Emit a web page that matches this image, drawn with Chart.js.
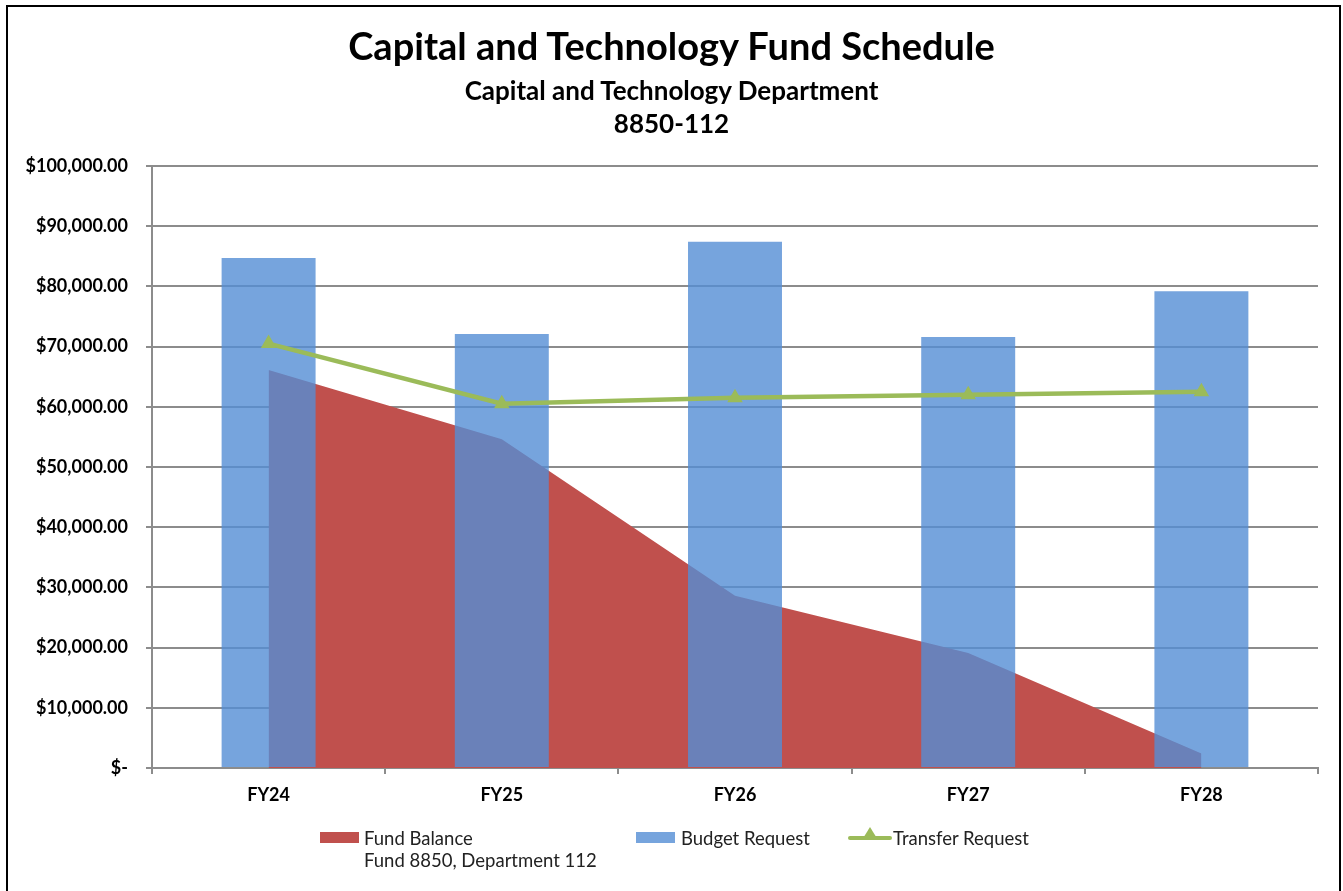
<!DOCTYPE html>
<html>
<head>
<meta charset="utf-8">
<script src="https://cdn.jsdelivr.net/npm/chart.js@4/dist/chart.umd.min.js"></script>
<style>
  html, body { margin: 0; padding: 0; background: #fff; }
  body { width: 1343px; height: 891px; position: relative; overflow: hidden; font-family: Lato, "Open Sans", sans-serif; }
  #frame { position: absolute; left: 6px; top: 5px; width: 1331px; height: 900px; border: 2px solid #000; pointer-events: none; }
  #chart { position: absolute; left: 0; top: 0; }
  .title { position: absolute; left: 0; width: 1343px; text-align: center; font-weight: bold; color: #000; white-space: nowrap; }
  #t1 { top: 22px; font-size: 38px; line-height: 46px; }
  #t2 { top: 75px; font-size: 26px; line-height: 30px; }
  #t3 { top: 108px; font-size: 26px; line-height: 30px; }
  .leg { position: absolute; font-size: 18.5px; color: #222; line-height: 22px; white-space: nowrap; }
  .sw { position: absolute; height: 11px; width: 39px; }
  .gl { position: absolute; height: 4px; width: 44px; background: #9bbb59; border-radius: 2px; }
  .tri { position: absolute; width: 0; height: 0; border-left: 8px solid transparent; border-right: 8px solid transparent; border-bottom: 13px solid #9bbb59; }
</style>
</head>
<body>
<canvas id="chart" width="1343" height="891"></canvas>
<div id="t1" class="title">Capital and Technology Fund Schedule</div>
<div id="t2" class="title">Capital and Technology Department</div>
<div id="t3" class="title">8850-112</div>

<div class="sw" style="left:320px; top:832px; background:#c0504d;"></div>
<div class="leg" style="left:364px; top:827px;">Fund Balance<br>Fund 8850, Department 112</div>
<div class="sw" style="left:636px; top:832px; background:rgba(84,141,212,0.8);"></div>
<div class="leg" style="left:681px; top:827px;">Budget Request</div>
<div class="gl" style="left:848px; top:836px;"></div>
<div class="tri" style="left:862px; top:827px;"></div>
<div class="leg" style="left:893px; top:827px;">Transfer Request</div>

<div id="frame"></div>

<script>
var categories = ['FY24', 'FY25', 'FY26', 'FY27', 'FY28'];
var fundBalance = [66100, 54600, 28600, 19100, 2400];
var budgetRequest = [84700, 72100, 87400, 71600, 79200];
var transferRequest = [70500, 60500, 61500, 62000, 62500];

var gridGray = '#8c8c8c';
var tickFont = { family: 'Lato, "Open Sans", sans-serif', size: 18, weight: 'bold' };

function money(value) {
  if (value === 0) return '$-';
  return '$' + value.toLocaleString('en-US', { minimumFractionDigits: 2, maximumFractionDigits: 2 });
}

var chart = new Chart(document.getElementById('chart'), {
  type: 'bar',
  data: {
    labels: categories,
    datasets: [
      {
        type: 'line',
        label: 'Transfer Request',
        data: transferRequest,
        borderColor: '#9bbb59',
        backgroundColor: '#9bbb59',
        borderWidth: 4.5,
        pointStyle: 'triangle',
        pointRadius: 9,
        pointBorderWidth: 0,
        tension: 0,
        order: 0
      },
      {
        label: 'Budget Request',
        data: budgetRequest,
        backgroundColor: 'rgba(84,141,212,0.8)',
        borderWidth: 0,
        barPercentage: 0.403,
        categoryPercentage: 1,
        order: 1
      },
      {
        type: 'line',
        label: 'Fund Balance',
        data: fundBalance,
        backgroundColor: '#c0504d',
        borderWidth: 0,
        pointRadius: 0,
        fill: 'origin',
        tension: 0,
        order: 2
      }
    ]
  },
  options: {
    responsive: false,
    animation: false,
    layout: { padding: { left: 0, right: 25, top: 166, bottom: 73 } },
    plugins: {
      legend: { display: false },
      title: { display: false },
      tooltip: { enabled: false }
    },
    scales: {
      x: {
        offset: true,
        grid: { offset: true, drawOnChartArea: false, drawTicks: true, tickLength: 6, color: gridGray, lineWidth: 2 },
        border: { color: gridGray, width: 2 },
        ticks: { color: '#000', font: tickFont, padding: 10 },
        afterFit: function(scale) { scale.height = 50; }
      },
      y: {
        min: 0,
        max: 100000,
        grid: { color: gridGray, lineWidth: 2, tickLength: 6 },
        border: { color: gridGray, width: 2 },
        ticks: { stepSize: 10000, color: '#000', font: tickFont, padding: 18, callback: money },
        afterFit: function(scale) { scale.width = 152; }
      }
    }
  }
});
</script>
</body>
</html>
